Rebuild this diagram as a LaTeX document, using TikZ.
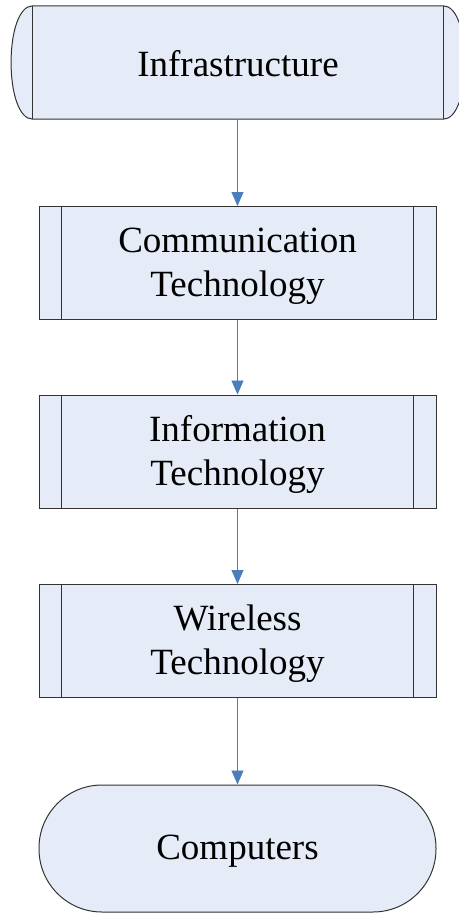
\documentclass[tikz,border=0pt]{standalone}
\usepackage{fontspec}
\setmainfont{Liberation Serif}
\usetikzlibrary{arrows.meta}
\definecolor{boxfill}{HTML}{E6ECF7}
\definecolor{flowblue}{HTML}{4A7EBB}
\begin{document}
\begin{tikzpicture}[x=1pt,y=-1pt,
  lbl/.style={align=center,font=\fontsize{37}{44}\selectfont,inner sep=0pt},
  procbox/.style={draw=black!80,line width=1pt,fill=boxfill,rectangle,
    minimum width=397pt,minimum height=113pt},
  flow/.style={flowblue,line width=0.9pt,-{Triangle[length=14pt,width=12pt]}}]
\useasboundingbox (0,0) rectangle (458,913);
% storage drum at the top
\node[minimum width=410pt,minimum height=113pt,inner sep=0pt] (infra) at (238,62.5) {};
\path[fill=boxfill,draw=black!80,line width=1pt]
  (infra.north west) -- (infra.north east)
  .. controls ([xshift=29pt]infra.north east) and ([xshift=29pt]infra.south east) .. (infra.south east)
  -- (infra.south west)
  .. controls ([xshift=-29pt]infra.south west) and ([xshift=-29pt]infra.north west) .. (infra.north west);
\draw[black!80,line width=1pt] (infra.north west) -- (infra.south west)
  (infra.north east) -- (infra.south east);
\node[lbl] (infratext) at ([yshift=-1pt]infra.center) {Infrastructure};
% predefined process boxes
\node[procbox] (comm) at (237.5,263) {};
\node[procbox] (info) at (237.5,451.5) {};
\node[procbox] (wire) at (237.5,641) {};
\node[lbl] (commtext) at ([yshift=-3pt]comm.center) {Communication\\Technology};
\node[lbl] (infotext) at ([yshift=-3pt]info.center) {Information\\Technology};
\node[lbl] (wiretext) at ([yshift=-3pt]wire.center) {Wireless\\Technology};
\foreach \n in {comm,info,wire}{
  \draw[black!80,line width=1pt]
    ([xshift=23pt]\n.north west) -- ([xshift=23pt]\n.south west)
    ([xshift=-23pt]\n.north east) -- ([xshift=-23pt]\n.south east);
}
% terminator
\node[procbox,rounded corners=63pt,minimum height=127pt] (comp) at (237.5,848.5) {};
\node[lbl] (comptext) at ([yshift=-3pt]comp.center) {Computers};
% connectors
\draw[flow] (infra.south -| comm.north) -- (comm.north);
\draw[flow] (comm) -- (info);
\draw[flow] (info) -- (wire);
\draw[flow] (wire) -- (comp);
\end{tikzpicture}
\end{document}
